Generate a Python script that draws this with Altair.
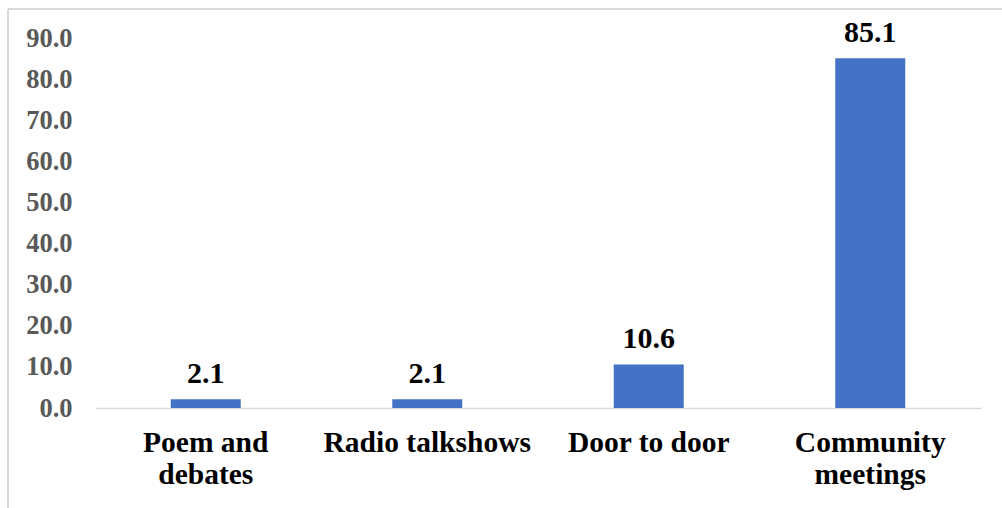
import altair as alt
import pandas as pd

categories = ["Poem and|debates", "Radio talkshows", "Door to door", "Community|meetings"]
values = [2.1, 2.1, 10.6, 85.1]
y_ticks = [0, 10, 20, 30, 40, 50, 60, 70, 80, 90]

df = pd.DataFrame({"cat": categories, "val": values})

FONT = "'Times New Roman', 'Liberation Serif', 'DejaVu Serif', serif"

x_enc = alt.X(
    "cat:N",
    sort=categories,
    scale=alt.Scale(paddingInner=0, paddingOuter=0),
    axis=alt.Axis(
        title=None,
        labelAngle=0,
        labelFont=FONT,
        labelFontSize=29.5,
        labelFontWeight="bold",
        labelColor="#000000",
        labelLimit=400,
        labelPadding=20,
        labelLineHeight=32,
        labelExpr="split(datum.label, '|')",
        ticks=False,
        domainColor="#d9d9d9",
        domainWidth=1.5,
        grid=False,
    ),
)

y_enc = alt.Y(
    "val:Q",
    scale=alt.Scale(domain=[0, 90], nice=False),
    axis=alt.Axis(
        title=None,
        values=y_ticks,
        format=".1f",
        labelFont=FONT,
        labelFontSize=26.5,
        labelFontWeight="bold",
        labelColor="#595959",
        labelPadding=23,
        ticks=False,
        domain=False,
        grid=False,
    ),
)

bars = alt.Chart(df).mark_bar(color="#4472C4", size=70).encode(x=x_enc, y=y_enc)

labels = alt.Chart(df).mark_text(
    font=FONT, fontSize=30, fontWeight="bold", color="#000000",
    baseline="alphabetic", dy=-16,
).encode(x=alt.X("cat:N", sort=categories), y="val:Q", text=alt.Text("val:Q", format=".1f"))

border_top = alt.Chart(df).mark_rule(color="#d9d9d9", strokeWidth=2, clip=False).encode(
    x=alt.value(-87), x2=alt.value(920), y=alt.value(-29)
)
border_left = alt.Chart(df).mark_rule(color="#d9d9d9", strokeWidth=2, clip=False).encode(
    x=alt.value(-87), y=alt.value(-29), y2=alt.value(480)
)

chart = alt.layer(bars, labels, border_top, border_left).properties(
    width=886,
    height=370,
    autosize=alt.AutoSizeParams(type="none"),
    padding={"left": 95, "top": 38, "right": 21, "bottom": 100},
    background="#ffffff",
).configure_view(stroke=None)

chart.save("out.html", embed_options={"renderer": "svg", "actions": False})
